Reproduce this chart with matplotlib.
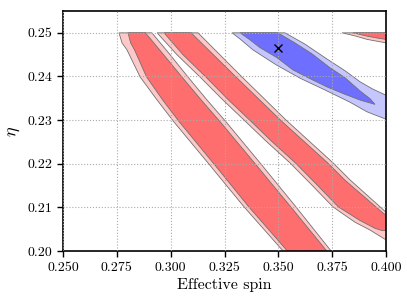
import matplotlib
matplotlib.use('Agg')
import matplotlib.pyplot as plt

plt.rcParams['font.family'] = ['cmr10', 'DejaVu Serif']
plt.rcParams['mathtext.fontset'] = 'cm'
plt.rcParams['axes.formatter.use_mathtext'] = True

# contour outlines (effective spin, eta)
band1_outer = [(0.2760, 0.2500), (0.2774, 0.2477), (0.2797, 0.2461), (0.2858, 0.2399),
               (0.2937, 0.2346), (0.3015, 0.2296), (0.3173, 0.2202), (0.3341, 0.2101),
               (0.3522, 0.2000), (0.3571, 0.1975), (0.3787, 0.1975), (0.3745, 0.2000),
               (0.3582, 0.2101), (0.3415, 0.2202), (0.3257, 0.2296), (0.3169, 0.2346),
               (0.3080, 0.2399), (0.2997, 0.2450), (0.2913, 0.2500)]
band1_inner = [(0.2802, 0.2500), (0.2814, 0.2477), (0.2832, 0.2461), (0.2888, 0.2399),
               (0.2963, 0.2346), (0.3040, 0.2296), (0.3197, 0.2202), (0.3363, 0.2101),
               (0.3542, 0.2000), (0.3591, 0.1975), (0.3767, 0.1975), (0.3725, 0.2000),
               (0.3558, 0.2101), (0.3389, 0.2202), (0.3230, 0.2296), (0.3142, 0.2346),
               (0.3052, 0.2399), (0.2967, 0.2450), (0.2883, 0.2500)]
band2_outer = [(0.2937, 0.2500), (0.3029, 0.2450), (0.3136, 0.2399), (0.3243, 0.2346),
               (0.3341, 0.2300), (0.3447, 0.2250), (0.3554, 0.2202), (0.3656, 0.2151),
               (0.3754, 0.2101), (0.3856, 0.2066), (0.3926, 0.2048), (0.3972, 0.2034),
               (0.3995, 0.2027), (0.4028, 0.2023), (0.4065, 0.2040), (0.4065, 0.2050),
               (0.4000, 0.2089), (0.3833, 0.2163), (0.3754, 0.2202), (0.3536, 0.2300),
               (0.3331, 0.2399), (0.3127, 0.2500)]
band2_inner = [(0.2969, 0.2500), (0.3057, 0.2450), (0.3163, 0.2399), (0.3269, 0.2346),
               (0.3367, 0.2300), (0.3472, 0.2250), (0.3579, 0.2202), (0.3681, 0.2151),
               (0.3779, 0.2101), (0.3879, 0.2070), (0.3949, 0.2052), (0.3981, 0.2047),
               (0.4028, 0.2046), (0.4065, 0.2060), (0.3986, 0.2087), (0.3808, 0.2163),
               (0.3729, 0.2202), (0.3510, 0.2300), (0.3303, 0.2399), (0.3095, 0.2500)]
corner_outer = [(0.3796, 0.2500), (0.3856, 0.2493), (0.3912, 0.2485), (0.4000, 0.2477),
                (0.4065, 0.2470), (0.4065, 0.2500)]
corner_inner = [(0.3847, 0.2500), (0.3916, 0.2492), (0.3972, 0.2487), (0.4000, 0.2485),
                (0.4065, 0.2483), (0.4065, 0.2500)]
blue_outer = [(0.3285, 0.2500), (0.3322, 0.2486), (0.3382, 0.2461), (0.3489, 0.2427),
              (0.3601, 0.2396), (0.3717, 0.2369), (0.3833, 0.2341), (0.3912, 0.2319),
              (0.3995, 0.2303), (0.4065, 0.2298), (0.4065, 0.2360), (0.3995, 0.2358),
              (0.3935, 0.2372), (0.3879, 0.2388), (0.3810, 0.2413), (0.3726, 0.2440),
              (0.3624, 0.2474), (0.3531, 0.2500)]
blue_inner = [(0.3322, 0.2500), (0.3368, 0.2484), (0.3415, 0.2466), (0.3494, 0.2443),
              (0.3568, 0.2415), (0.3647, 0.2395), (0.3726, 0.2376), (0.3805, 0.2360),
              (0.3879, 0.2346), (0.3949, 0.2336), (0.3926, 0.2349), (0.3879, 0.2367),
              (0.3810, 0.2397), (0.3740, 0.2420), (0.3656, 0.2452), (0.3577, 0.2477),
              (0.3498, 0.2500)]
injected = (0.350, 0.2465)

red_light, red_dark = '#ffc8c8', '#ff6e6e'
blue_light, blue_dark = '#c6c6ff', '#6e6eff'

fig = plt.figure(figsize=(4.07, 3.01), dpi=100)
ax = fig.add_axes([0.1548, 0.1661, 0.7936, 0.7973])

def draw(poly, color):
    xs = [p[0] for p in poly]
    ys = [p[1] for p in poly]
    ax.fill(xs, ys, facecolor=color, edgecolor='#707070', linewidth=0.6, zorder=1)

for outer, inner in [(band1_outer, band1_inner), (band2_outer, band2_inner),
                     (corner_outer, corner_inner)]:
    draw(outer, red_light)
    draw(inner, red_dark)
draw(blue_outer, blue_light)
draw(blue_inner, blue_dark)

ax.plot(injected[0], injected[1], 'x', color='k', ms=6, mew=1.0, zorder=3)

ax.set_xlim(0.25, 0.40)
ax.set_ylim(0.20, 0.255)
ax.set_xticks([0.250, 0.275, 0.300, 0.325, 0.350, 0.375, 0.400])
ax.set_xticklabels(['0.250', '0.275', '0.300', '0.325', '0.350', '0.375', '0.400'])
ax.set_yticks([0.20, 0.21, 0.22, 0.23, 0.24, 0.25])
ax.set_yticklabels(['0.20', '0.21', '0.22', '0.23', '0.24', '0.25'])
ax.grid(True, linestyle=':', color='#aaaaaa', linewidth=0.8, zorder=2)
ax.set_axisbelow(False)
for s in ax.spines.values():
    s.set_linewidth(1.2)
ax.tick_params(direction='out', length=4, width=1.0, labelsize=10)
ax.set_xlabel('Effective spin', fontsize=11.5, labelpad=3)
ax.set_ylabel(r'$\eta$', fontsize=13, labelpad=4)

fig.savefig('out.png', dpi=100)
